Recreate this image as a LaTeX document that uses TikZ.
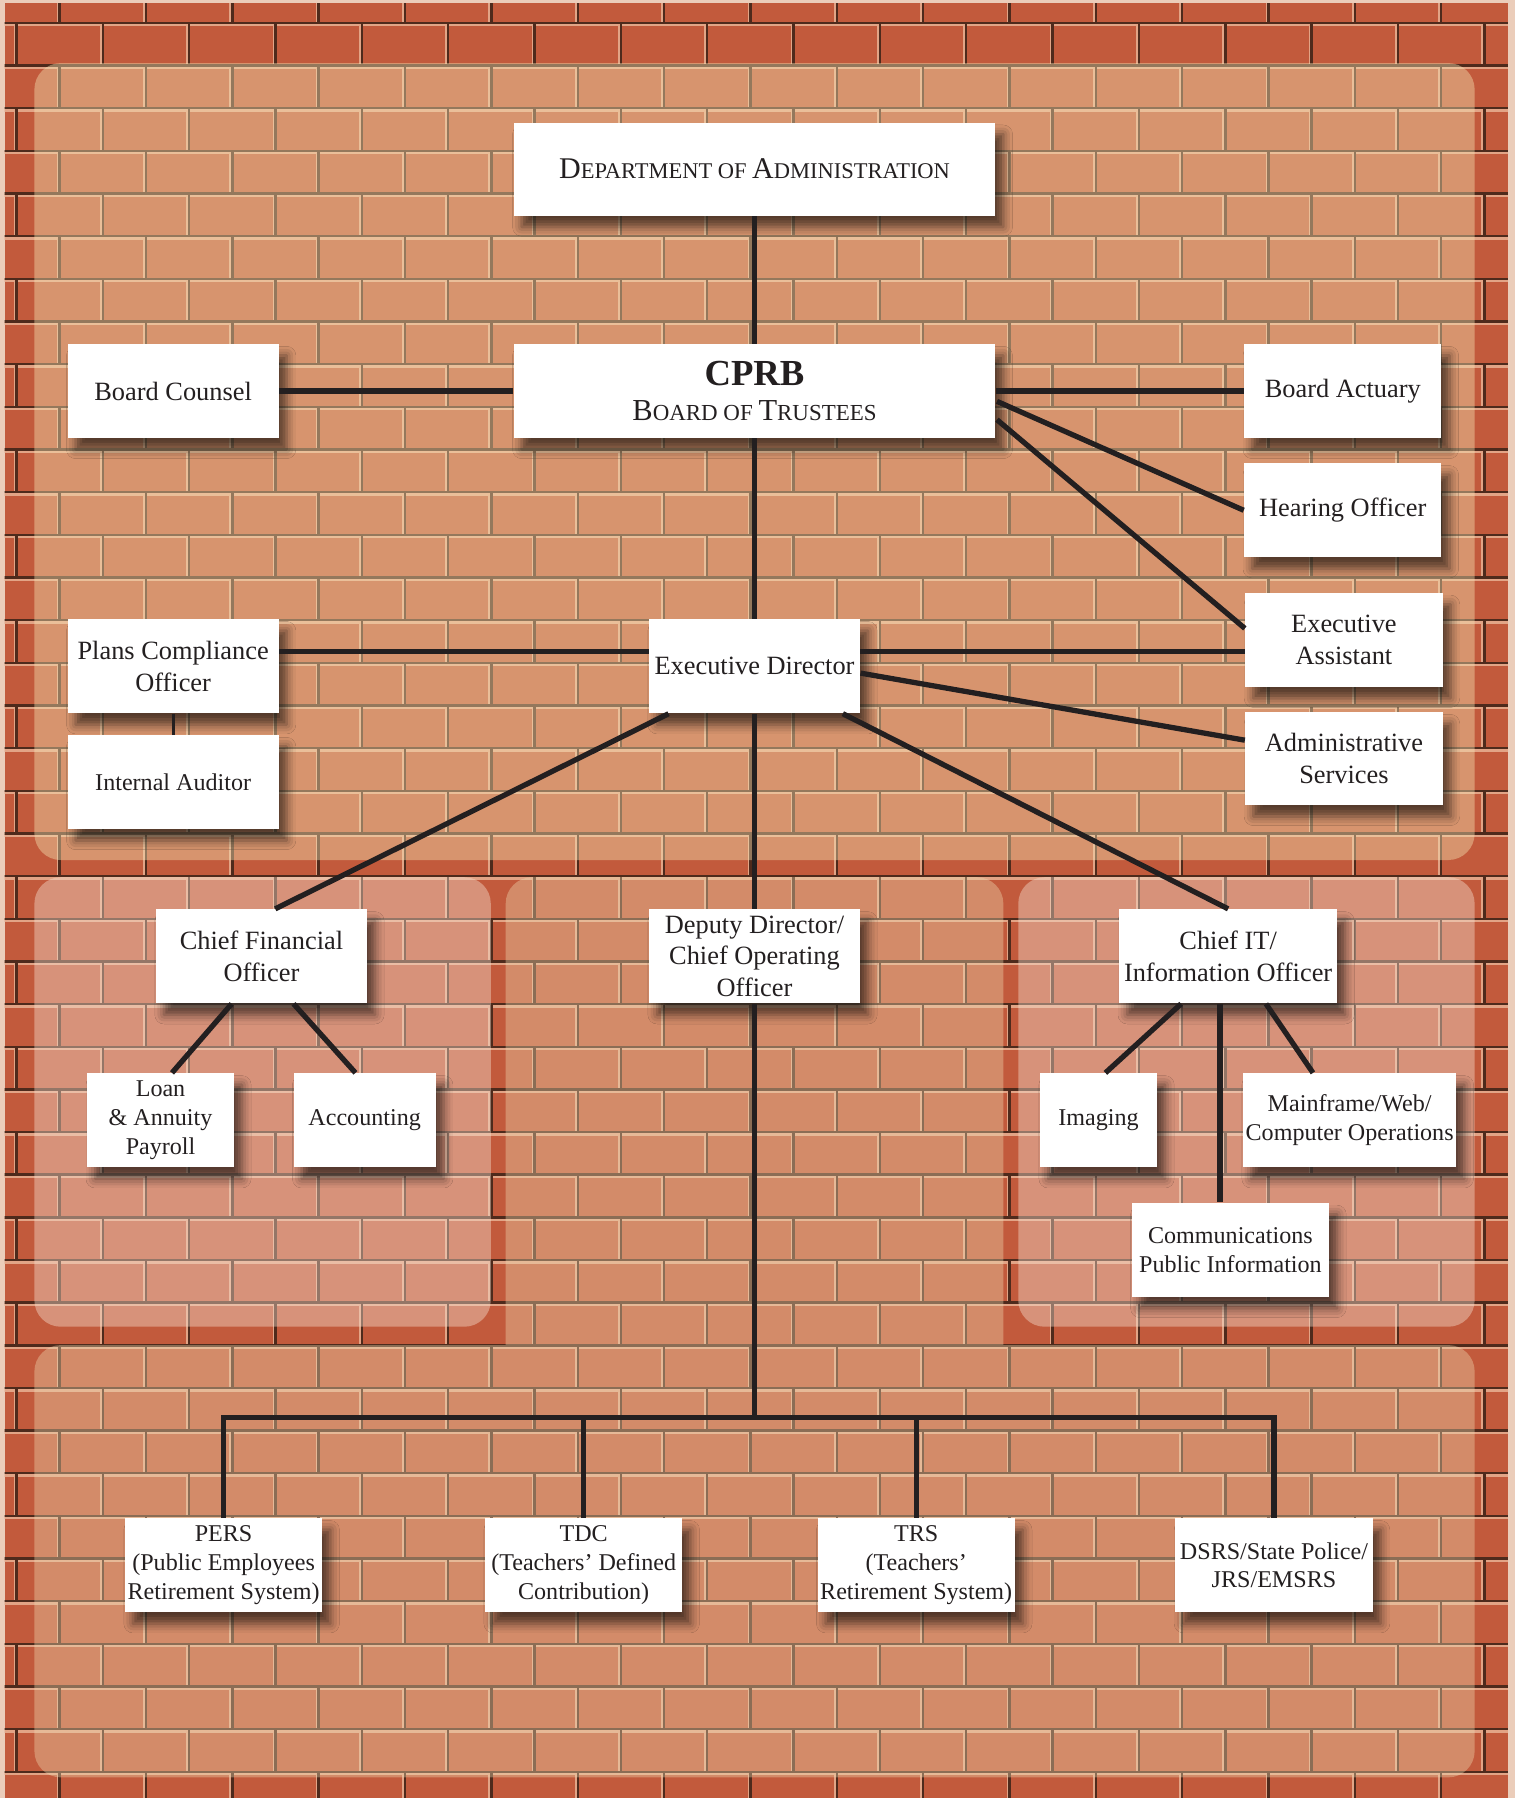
\documentclass[tikz,border=0pt]{standalone}
\usepackage{fontspec}
\setmainfont{Liberation Serif}
\usetikzlibrary{calc,shadows.blur}
\definecolor{edgec}{HTML}{EBCDBA}
\definecolor{brick}{HTML}{C25A3C}
\definecolor{mortar}{HTML}{4E2A1C}
\definecolor{mortarlt}{HTML}{E2A486}
\definecolor{linec}{HTML}{231F20}
\definecolor{txt}{HTML}{231F20}
\definecolor{ovtop}{HTML}{F6E6B5}
\definecolor{ovside}{HTML}{F6E0D0}
\definecolor{ovlow}{HTML}{EFDCB4}
\newcommand\scbig[1]{{\fontsize{13.1}{15}\selectfont #1}}
\newcommand\scsml[1]{{\fontsize{9.8}{15}\selectfont #1}}
\newcommand\tbig[1]{{\fontsize{13.3}{14}\selectfont #1}}
\newcommand\tsml[1]{{\fontsize{10}{14}\selectfont #1}}
\begin{document}
\begin{tikzpicture}[x=0.5pt,y=-0.5pt,
  conn/.style={draw=linec,line width=2.3pt},
  thinconn/.style={draw=linec,line width=1.2pt},
  box/.style={fill=white,inner sep=0pt,align=center,text=txt,
     blur shadow={shadow xshift=3.5pt,shadow yshift=-5pt,shadow blur radius=4pt,shadow opacity=60}},
  dim/.style 2 args={minimum width={#1*0.5pt},minimum height={#2*0.5pt}},
  fa/.style={font=\fontsize{11.5}{13.8}\selectfont},
  fb/.style={font=\fontsize{10.5}{12.6}\selectfont},
  lightm/.style={draw=mortarlt,line width=1.3pt},
  darkm/.style={draw=mortar,line width=1.05pt},
  panel/.style={rounded corners=11.5pt,fill=#1},
]
\useasboundingbox (0,0) rectangle (1321,1568);
\fill[edgec] (0,0) rectangle (1321,1568);
% brick wall
\begin{scope}
\clip (4,3) rectangle (1315,1568);
\fill[brick] (4,3) rectangle (1315,1568);
\foreach \k [evaluate=\k as \ya using {20+37.2*(\k-1)}, evaluate=\k as \yb using {20+37.2*\k}, evaluate=\k as \off using {52-37.65*mod(\k,2)}] in {0,...,42} {
  \draw[lightm] \foreach \n in {-1,...,17} {({\off+75.3*\n-1.2},\ya) -- ({\off+75.3*\n-1.2},\yb)};
  \draw[lightm] (0,{\yb+1.8}) -- (1321,{\yb+1.8});
}
\foreach \k [evaluate=\k as \ya using {20+37.2*(\k-1)}, evaluate=\k as \yb using {20+37.2*\k}, evaluate=\k as \off using {52-37.65*mod(\k,2)}] in {0,...,42} {
  \draw[darkm] \foreach \n in {-1,...,17} {({\off+75.3*\n},\ya) -- ({\off+75.3*\n},\yb)};
  \draw[darkm] (0,\yb) -- (1321,\yb);
}
\end{scope}
% panels
\fill[panel=ovtop,fill opacity=0.42] (30,55) rectangle (1286,750);
\fill[panel=ovside,fill opacity=0.42] (30,765) rectangle (428,1157);
\fill[panel=ovside,fill opacity=0.42] (888,765) rectangle (1286,1157);
\fill[panel=ovlow,fill opacity=0.38] (441,765) rectangle (875,1465) (30,1173) rectangle (1286,1550);
% boxes
\node[box,dim={420}{81}] (dept) at (658,147.5) {\scbig{D}\scsml{EPARTMENT OF }\scbig{A}\scsml{DMINISTRATION}};
\node[box,dim={420}{82},font=\fontsize{13.3}{14}\selectfont] (cprb) at (658,341) {{\fontsize{16}{14}\selectfont\bfseries CPRB}\\[1pt]\tbig{B}\tsml{OARD OF }\tbig{T}\tsml{RUSTEES}};
\node[box,fa,dim={184}{82}] (counsel) at (151,341) {Board Counsel};
\node[box,fa,dim={172}{82}] (actuary) at (1171,341) {Board Actuary};
\node[box,fa,dim={172}{82}] (hearing) at (1171,445) {Hearing Officer};
\node[box,fa,dim={172}{82}] (execasst) at (1172,558) {Executive\\Assistant};
\node[box,fa,dim={172}{81}] (admin) at (1172,661.5) {Administrative\\Services};
\node[box,fa,dim={184}{82}] (plans) at (151,581) {Plans Compliance\\Officer};
\node[box,fb,dim={184}{82}] (auditor) at (151,682) {Internal Auditor};
\node[box,fa,dim={184}{82}] (ed) at (658,581) {Executive Director};
\node[box,fa,dim={184}{82}] (cfo) at (228,834) {Chief Financial\\Officer};
\node[box,fa,dim={184}{82}] (deputy) at (658,834) {Deputy Director/\\Chief Operating\\Officer};
\node[box,fa,dim={190}{82}] (cit) at (1071,834) {Chief IT/\\Information Officer};
\node[box,fb,dim={128}{82}] (loan) at (140,977) {Loan\\\& Annuity\\Payroll};
\node[box,fb,dim={124}{82}] (acct) at (318,977) {Accounting};
\node[box,fb,dim={102}{82}] (imaging) at (958,977) {Imaging};
\node[box,fb,dim={186}{82}] (mainframe) at (1177,977) {Mainframe/Web/\\Computer Operations};
\node[box,fb,dim={172}{82}] (comm) at (1073,1090) {Communications\\Public Information};
\node[box,fb,dim={172}{82}] (pers) at (195,1365) {PERS\\(Public Employees\\Retirement System)};
\node[box,fb,dim={172}{82}] (tdc) at (509,1365) {TDC\\(Teachers’ Defined\\Contribution)};
\node[box,fb,dim={172}{82}] (trs) at (799,1365) {TRS\\(Teachers’\\Retirement System)};
\node[box,fb,dim={172}{82}] (dsrs) at (1111,1365) {DSRS/State Police/\\JRS/EMSRS};
% connectors
\draw[conn] (dept.south) -- (cprb.north);
\draw[conn] (cprb.south) -- (ed.north);
\draw[conn] (counsel.east) -- (cprb.west);
\draw[conn] (cprb.east) -- (actuary.west);
\draw[conn] ($(cprb.east)+(1,9)$) -- (hearing.west);
\draw[conn] ($(cprb.east)+(1,25)$) -- ($(execasst.west)+(0,-10)$);
\draw[conn] ($(plans.east)+(0,-13)$) -- ($(ed.west)+(0,-13)$);
\draw[conn] ($(ed.east)+(0,-13)$) -- ($(execasst.west)+(0,10)$);
\draw[conn] ($(ed.east)+(0,6)$) -- ($(admin.west)+(0,-16)$);
\draw[thinconn] (plans.south) -- (auditor.north);
\draw[conn] ($(ed.south)+(-75,0)$) -- ($(cfo.north)+(12,0)$);
\draw[conn] (ed.south) -- (deputy.north);
\draw[conn] ($(ed.south)+(77,0)$) -- (cit.north);
\draw[conn] ($(cfo.south)+(-26,0)$) -- ($(loan.north)+(10,0)$);
\draw[conn] ($(cfo.south)+(28,0)$) -- ($(acct.north)+(-8,0)$);
\draw[conn] ($(cit.south)+(-41,0)$) -- ($(imaging.north)+(6,0)$);
\draw[conn] ($(cit.south)+(-7,0)$) -- ($(comm.north)+(-9,0)$);
\draw[conn] ($(cit.south)+(33,0)$) -- ($(mainframe.north)+(-32,0)$);
\coordinate (busc) at (658,1236);
\draw[conn] (deputy.south) -- (busc);
\draw[conn] (pers.north) -- (pers.north |- busc) -- (dsrs.north |- busc) -- (dsrs.north);
\draw[conn] (tdc.north) -- (tdc.north |- busc);
\draw[conn] (trs.north) -- (trs.north |- busc);
\end{tikzpicture}
\end{document}
